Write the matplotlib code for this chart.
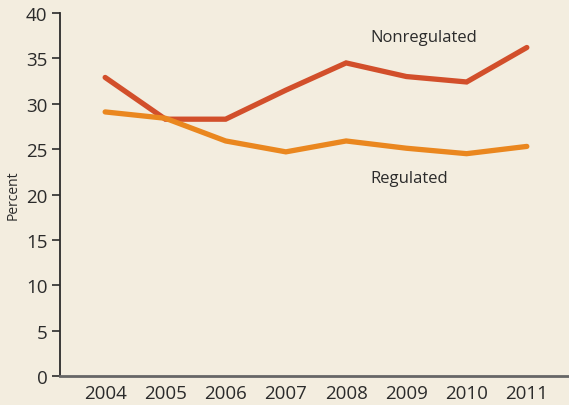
import matplotlib.pyplot as plt

plt.rcParams["font.family"] = ["Open Sans", "DejaVu Sans"]

bg = "#F3EDDF"
red = "#D24F2B"
orange = "#EA871F"

years = [2004, 2005, 2006, 2007, 2008, 2009, 2010, 2011]
nonregulated = [32.9, 28.3, 28.3, 31.5, 34.5, 33.0, 32.4, 36.2]
regulated = [29.1, 28.4, 25.9, 24.7, 25.9, 25.1, 24.5, 25.3]

fig = plt.figure(figsize=(5.69, 4.06), dpi=100, facecolor=bg)
ax = fig.add_axes([0.1054, 0.0714, 0.8946, 0.8941], facecolor=bg)

ax.plot(years, nonregulated, color=red, lw=3.8, solid_capstyle="round", solid_joinstyle="miter")
ax.plot(years, regulated, color=orange, lw=3.8, solid_capstyle="round", solid_joinstyle="miter")

ax.text(2008.4, 37.4, "Nonregulated", fontsize=12, color="#2b2b2b", va="center")
ax.text(2008.4, 21.8, "Regulated", fontsize=12, color="#2b2b2b", va="center")

ax.set_xlim(2003.25, 2011.7)
ax.set_ylim(0, 40)
ax.set_yticks(range(0, 41, 5))
ax.set_xticks(years)

for s in ["top", "right"]:
    ax.spines[s].set_visible(False)
ax.spines["left"].set_color("#2b2b2b")
ax.spines["left"].set_linewidth(1.3)
ax.spines["bottom"].set_color("#666666")
ax.spines["bottom"].set_linewidth(2)

ax.tick_params(axis="y", direction="out", length=6, width=1.2, color="#2b2b2b",
               labelsize=13.5, labelcolor="#2b2b2b", pad=3)
ax.tick_params(axis="x", length=0, labelsize=13.5, labelcolor="#2b2b2b", pad=6)

ax.set_ylabel("Percent", fontsize=10, color="#2b2b2b", labelpad=4)

fig.savefig("out.png", dpi=100, facecolor=bg)
